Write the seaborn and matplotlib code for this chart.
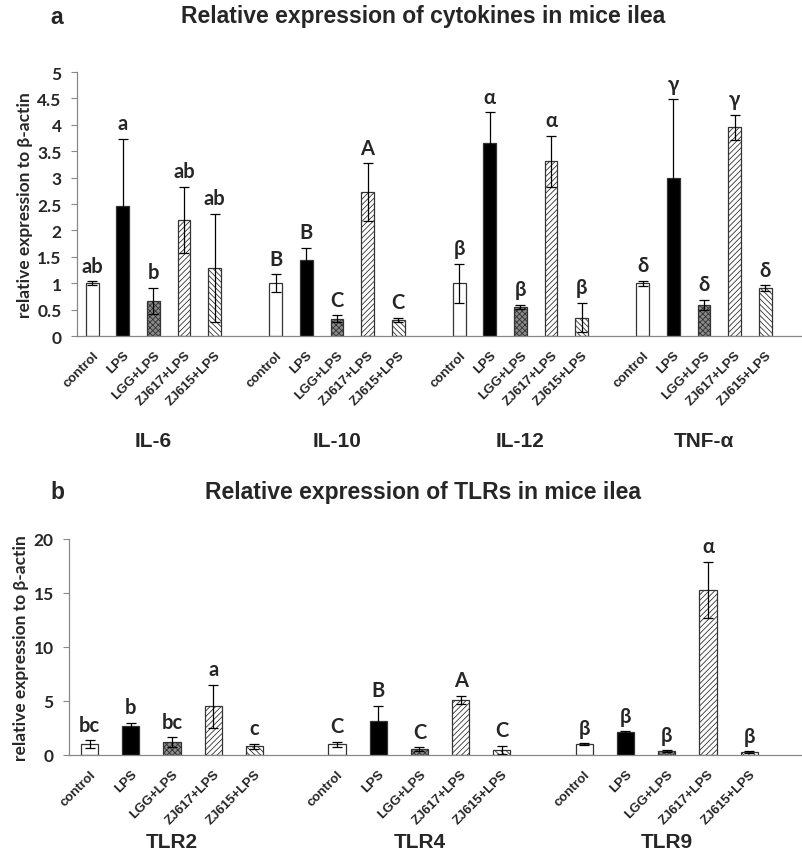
import numpy as np
import pandas as pd
import matplotlib
matplotlib.use("Agg")
import matplotlib.pyplot as plt
import seaborn as sns

treatments = ["control", "LPS", "LGG+LPS", "ZJ617+LPS", "ZJ615+LPS"]

# panel a: cytokines
cyto_genes = ["IL-6", "IL-10", "IL-12", "TNF-α"]
cyto_mean = [
    [1.00, 2.46, 0.66, 2.20, 1.29],
    [1.00, 1.44, 0.33, 2.72, 0.31],
    [1.00, 3.66, 0.55, 3.31, 0.35],
    [1.00, 3.00, 0.59, 3.95, 0.91],
]
cyto_err = [
    [0.04, 1.28, 0.25, 0.63, 1.02],
    [0.17, 0.23, 0.06, 0.55, 0.04],
    [0.37, 0.58, 0.04, 0.48, 0.28],
    [0.05, 1.48, 0.10, 0.24, 0.05],
]
cyto_letters = [
    ["ab", "a", "b", "ab", "ab"],
    ["B", "B", "C", "A", "C"],
    ["β", "α", "β", "α", "β"],
    ["δ", "γ", "δ", "γ", "δ"],
]

# panel b: TLRs
tlr_genes = ["TLR2", "TLR4", "TLR9"]
tlr_mean = [
    [1.00, 2.70, 1.20, 4.50, 0.80],
    [1.00, 3.15, 0.55, 5.10, 0.45],
    [1.00, 2.10, 0.35, 15.30, 0.25],
]
tlr_err = [
    [0.35, 0.30, 0.45, 2.00, 0.25],
    [0.25, 1.40, 0.15, 0.40, 0.40],
    [0.10, 0.10, 0.10, 2.60, 0.10],
]
tlr_letters = [
    ["bc", "b", "bc", "a", "c"],
    ["C", "B", "C", "A", "C"],
    ["β", "β", "β", "α", "β"],
]

fills = {"control": "white", "LPS": "black", "LGG+LPS": "#8a8a8a",
         "ZJ617+LPS": "white", "ZJ615+LPS": "white"}
hatches = {"control": "", "LPS": "", "LGG+LPS": "xxxxxx",
           "ZJ617+LPS": "//////", "ZJ615+LPS": "\\\\\\\\\\\\"}

sns.set_style("white")
plt.rcParams["hatch.linewidth"] = 0.6
plt.rcParams["font.family"] = ["Liberation Sans", "DejaVu Sans"]
CAL = ["Lato", "DejaVu Sans"]


def panel(ax, genes, means, errs, letters, ymax, ystep):
    rows, order = [], []
    for gi, g in enumerate(genes):
        for ti, t in enumerate(treatments):
            key = f"{g}|{t}"
            rows.append({"key": key, "gene": g, "treat": t,
                         "val": means[gi][ti], "err": errs[gi][ti],
                         "letter": letters[gi][ti]})
            order.append(key)
        order.append(f"gap{gi}")
    df = pd.DataFrame(rows)
    sns.barplot(data=df, x="key", y="val", hue="treat", order=order,
                hue_order=treatments, palette=fills, dodge=False,
                width=0.42, edgecolor="#333333", linewidth=0.9,
                errorbar=None, legend=False, ax=ax)
    for p in ax.patches:
        idx = int(round(p.get_x() + p.get_width() / 2))
        if idx >= len(order) or order[idx].startswith("gap"):
            continue
        t = order[idx].split("|")[1]
        p.set_hatch(hatches[t])
    pos = np.array([order.index(k) for k in df["key"]])
    ax.errorbar(pos, df["val"], yerr=df["err"], fmt="none",
                ecolor="black", elinewidth=0.9, capsize=3.5, capthick=0.9)
    for x, v, e, lab in zip(pos, df["val"], df["err"], df["letter"]):
        ax.annotate(lab, (x, v + e), xytext=(0, 4), textcoords="offset points",
                    ha="center", va="bottom", fontsize=14.5, fontweight="bold",
                    family=CAL)
    ticks = np.arange(0, ymax + ystep / 2, ystep)
    ax.set_xlim(-0.5, len(order) - 0.5)
    ax.set_ylim(0, ymax)
    ax.set_yticks(ticks)
    ax.set_yticklabels([f"{v:g}" for v in ticks],
                       fontsize=12.5, fontweight="bold", family=CAL)
    ax.set_xticks(pos)
    ax.set_xticklabels(df["treat"], rotation=45, ha="right",
                       rotation_mode="anchor", fontsize=9.5, fontweight="bold")
    ax.set_xticks(np.arange(-0.5, len(order), 1), minor=True)
    ax.tick_params(axis="x", which="major", length=0, pad=9)
    ax.tick_params(axis="x", which="minor", length=4, color="#888888", width=0.8)
    ax.tick_params(axis="y", length=4, color="#888888", width=0.8, left=True, pad=7)
    for s in ["top", "right"]:
        ax.spines[s].set_visible(False)
    for s in ["left", "bottom"]:
        ax.spines[s].set_color("#888888")
        ax.spines[s].set_linewidth(0.9)
    ax.set_xlabel("")
    ax.set_ylabel("relative expression to β-actin", fontsize=12.5,
                  fontweight="bold", family=CAL, labelpad=3)
    return [order.index(f"{g}|{treatments[2]}") for g in genes]


fig = plt.figure(figsize=(8.03, 8.54), dpi=100)
W, H = 803, 854

ax1 = fig.add_axes([77 / W, 1 - 337 / H, (811 - 77) / W, (337 - 73) / H])
centers1 = panel(ax1, cyto_genes, cyto_mean, cyto_err, cyto_letters, 5, 0.5)
for c, g in zip(centers1, cyto_genes):
    ax1.annotate(g, (c, 0), xycoords=("data", "axes fraction"),
                 xytext=(0, -75), textcoords="offset points",
                 ha="center", va="center", fontsize=15, fontweight="bold")

ax2 = fig.add_axes([69 / W, 1 - 756 / H, (811 - 69) / W, (756 - 540) / H])
centers2 = panel(ax2, tlr_genes, tlr_mean, tlr_err, tlr_letters, 20, 5)
for c, g in zip(centers2, tlr_genes):
    ax2.annotate(g, (c, 0), xycoords=("data", "axes fraction"),
                 xytext=(0, -62), textcoords="offset points",
                 ha="center", va="center", fontsize=15, fontweight="bold")

fig.text(57 / W, 1 - 17 / H, "a", fontsize=16.5, fontweight="bold",
         ha="center", va="center")
fig.text(423 / W, 1 - 17 / H, "Relative expression of cytokines in mice ilea",
         fontsize=16.5, fontweight="bold", ha="center", va="center")
fig.text(57 / W, 1 - 493 / H, "b", fontsize=16.5, fontweight="bold",
         ha="center", va="center")
fig.text(423 / W, 1 - 493 / H, "Relative expression of TLRs in mice ilea",
         fontsize=16.5, fontweight="bold", ha="center", va="center")

fig.savefig("out.png", dpi=100)
